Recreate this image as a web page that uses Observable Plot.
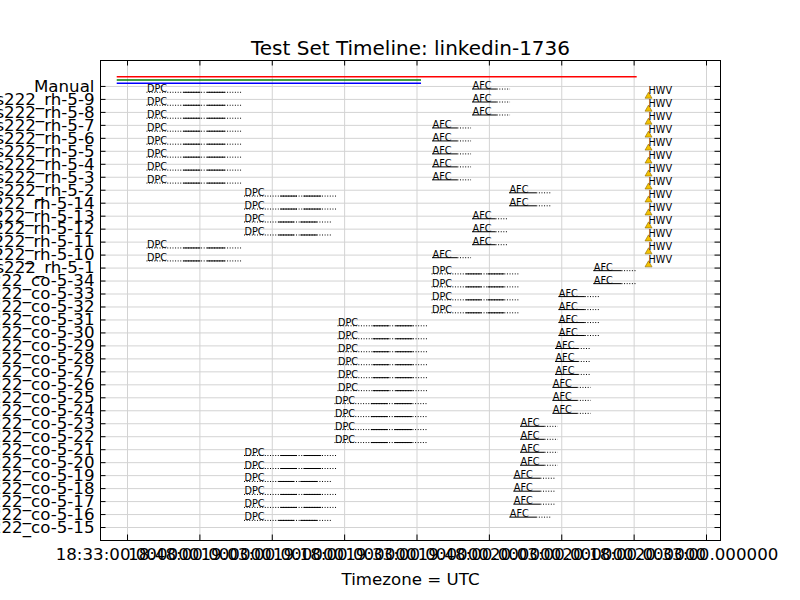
<!DOCTYPE html>
<html><head><meta charset="utf-8">
<script src="https://cdn.jsdelivr.net/npm/d3@7"></script>
<script src="https://cdn.jsdelivr.net/npm/@observablehq/plot@0.6"></script>
<style>body{margin:0;background:#fff;overflow:hidden}</style>
</head><body><div id="chart"></div>
<script>
const title = "Test Set Timeline: linkedin-1736";
const xLabel = "Timezone = UTC";
const rowLabels = ["Manual",
  "s222_rh-5-9","s222_rh-5-8","s222_rh-5-7","s222_rh-5-6","s222_rh-5-5","s222_rh-5-4","s222_rh-5-3","s222_rh-5-2",
  "s222_rh-5-14","s222_rh-5-13","s222_rh-5-12","s222_rh-5-11","s222_rh-5-10","s222_rh-5-1",
  "s222_co-5-34","s222_co-5-33","s222_co-5-32","s222_co-5-31","s222_co-5-30","s222_co-5-29","s222_co-5-28",
  "s222_co-5-27","s222_co-5-26","s222_co-5-25","s222_co-5-24","s222_co-5-23","s222_co-5-22","s222_co-5-21",
  "s222_co-5-20","s222_co-5-19","s222_co-5-18","s222_co-5-17","s222_co-5-16","s222_co-5-15"];
const xTickTimes = ["18:33:00","18:48:00","19:03:00","19:18:00","19:33:00","19:48:00","20:03:00","20:18:00","20:33:00"];
const xDomain = ["18:27:24","20:35:54"];

// Manual row lines
const manualColor = ["red","green","blue"];
const manualStart = ["18:30:52","18:30:52","18:30:52"];
const manualEnd   = ["20:18:38","19:33:56","19:33:56"];

// DPC events
const dpcRow = ["s222_rh-5-9","s222_rh-5-8","s222_rh-5-7","s222_rh-5-6","s222_rh-5-5","s222_rh-5-4","s222_rh-5-3","s222_rh-5-2",
  "s222_rh-5-14","s222_rh-5-13","s222_rh-5-12","s222_rh-5-11","s222_rh-5-10","s222_rh-5-1",
  "s222_co-5-34","s222_co-5-33","s222_co-5-32","s222_co-5-31",
  "s222_co-5-30","s222_co-5-29","s222_co-5-28","s222_co-5-27","s222_co-5-26","s222_co-5-25",
  "s222_co-5-24","s222_co-5-23","s222_co-5-22","s222_co-5-21",
  "s222_co-5-20","s222_co-5-19","s222_co-5-18","s222_co-5-17","s222_co-5-16","s222_co-5-15"];
const dpcStart = ["18:37:02","18:37:02","18:37:02","18:37:02","18:37:02","18:37:02","18:37:02","18:37:02",
  "18:57:15","18:57:15","18:57:15","18:57:15","18:37:02","18:37:02",
  "19:36:07","19:36:07","19:36:07","19:36:07",
  "19:16:38","19:16:38","19:16:38","19:16:38","19:16:38","19:16:38",
  "19:16:00","19:16:00","19:16:00","19:16:00",
  "18:57:15","18:57:15","18:57:15","18:57:15","18:57:15","18:57:15"];
const dpcEnd = ["18:56:38","18:56:38","18:56:38","18:56:38","18:56:38","18:56:38","18:56:38","18:56:38",
  "19:16:31","19:16:31","19:15:29","19:15:29","18:56:38","18:56:38",
  "19:54:15","19:54:15","19:54:15","19:54:15",
  "19:35:23","19:35:23","19:35:23","19:35:23","19:35:23","19:35:23",
  "19:35:23","19:35:23","19:35:23","19:35:23",
  "19:16:31","19:16:31","19:15:29","19:16:31","19:16:31","19:15:29"];

// AFC events
const afcRow = ["s222_rh-5-9","s222_rh-5-8","s222_rh-5-7","s222_rh-5-6","s222_rh-5-5","s222_rh-5-4","s222_rh-5-3","s222_rh-5-2",
  "s222_rh-5-14","s222_rh-5-13","s222_rh-5-12","s222_rh-5-11","s222_rh-5-10","s222_rh-5-1",
  "s222_co-5-34","s222_co-5-33","s222_co-5-32","s222_co-5-31","s222_co-5-30","s222_co-5-29",
  "s222_co-5-28","s222_co-5-27","s222_co-5-26","s222_co-5-25","s222_co-5-24","s222_co-5-23",
  "s222_co-5-22","s222_co-5-21","s222_co-5-20","s222_co-5-19","s222_co-5-18","s222_co-5-17","s222_co-5-16","s222_co-5-15"];
const afcStart = ["19:44:30","19:44:30","19:44:30","19:36:13","19:36:13","19:36:13","19:36:13","19:36:13",
  "19:52:10","19:52:10","19:44:30","19:44:30","19:44:30","19:36:13",
  "20:09:38","20:09:38","20:02:24","20:02:24","20:02:24","20:02:24",
  "20:01:42","20:01:42","20:01:42","20:01:09","20:01:09","20:01:09",
  "19:54:27","19:54:27","19:54:27","19:54:27","19:53:04","19:53:04","19:53:04","19:52:14"];
const afcEnd = ["19:52:23","19:52:23","19:52:23","19:44:18","19:44:18","19:44:18","19:44:18","19:44:18",
  "20:00:52","20:00:52","19:52:00","19:52:00","19:52:00","19:44:18",
  "20:18:38","20:18:38","20:10:50","20:10:50","20:10:50","20:10:50",
  "20:09:06","20:09:06","20:09:06","20:09:06","20:09:06","20:09:06",
  "20:02:16","20:02:16","20:02:16","20:02:16","20:01:42","20:01:42","20:01:42","20:00:49"];

// HWV markers
const hwvRow = ["s222_rh-5-9","s222_rh-5-8","s222_rh-5-7","s222_rh-5-6","s222_rh-5-5","s222_rh-5-4","s222_rh-5-3","s222_rh-5-2",
  "s222_rh-5-14","s222_rh-5-13","s222_rh-5-12","s222_rh-5-11","s222_rh-5-10","s222_rh-5-1"];
const hwvTime = ["20:20:59","20:20:59","20:20:59","20:20:59","20:20:59","20:20:59","20:20:59","20:20:59",
  "20:20:59","20:20:59","20:20:59","20:20:59","20:20:59","20:20:59"];

// stage patterns (fractions of each bar)
const dpcSolid = [[0.39,0.57],[0.64,0.83]];
const afcSolid = [[0,0.65]];

const day = "2016-01-01T";
const T = s => new Date(day + s + "Z");
const n = rowLabels.length;
const rowK = name => n - 1 - rowLabels.indexOf(name);

const W = 800, H = 600, mL = 100, mR = 80, mT = 60, mB = 60;
const fw = W - mL - mR, fh = H - mT - mB;
const tk = 5.5;

const DPC_OFF = 0.55, AFC_OFF = 0.8, HWV_OFF = 0.25, HWV_TXT = 0.42;

const dpc = dpcRow.map((r,i)=>({k: rowK(r), s: T(dpcStart[i]), e: T(dpcEnd[i])}));
const afc = afcRow.map((r,i)=>({k: rowK(r), s: T(afcStart[i]), e: T(afcEnd[i])}));
const hwv = hwvRow.map((r,i)=>({k: rowK(r), t: T(hwvTime[i])}));
const manual = manualColor.map((c,i)=>({c, s: T(manualStart[i]), e: T(manualEnd[i]), off: [0.75,0.5,0.25][i]}));

const lerp = (d,f) => new Date(+d.s + f*(d.e - d.s));
const dpcSolidSeg = dpc.flatMap(d => dpcSolid.map(([a,b]) => ({k: d.k, x1: lerp(d,a), x2: lerp(d,b)})));
const afcSolidSeg = afc.flatMap(d => afcSolid.map(([a,b]) => ({k: d.k, x1: lerp(d,a), x2: lerp(d,b)})));
const afcDotSeg = afc.map(d => ({k: d.k, x1: lerp(d, afcSolid[0][1]), x2: d.e}));

const xTicks = xTickTimes.map(T);
const yTicks = d3.range(n);
const fmt = d3.utcFormat("%H:%M:%S.000000");
const FS = 16.67, SF = 9.7;

const chart = Plot.plot({
  width: W, height: H,
  marginLeft: mL, marginRight: mR, marginTop: mT, marginBottom: mB,
  style: {fontFamily: "DejaVu Sans", background: "white", color: "black", overflow: "visible"},
  x: {type: "utc", domain: [T(xDomain[0]), T(xDomain[1])]},
  y: {type: "linear", domain: [-1, 36]},
  marks: [
    Plot.gridX(xTicks, {stroke: "#d3d3d3", strokeOpacity: 1, strokeWidth: 1}),
    Plot.gridY(yTicks, {stroke: "#d3d3d3", strokeOpacity: 1, strokeWidth: 1}),
    // manual lines
    Plot.ruleY(manual, {x1: "s", x2: "e", y: d => n - 1 + d.off, stroke: "c", strokeWidth: 1.4}),
    // DPC
    Plot.ruleY(dpc, {x1: "s", x2: "e", y: d => d.k + DPC_OFF, stroke: "black", strokeWidth: 1, strokeDasharray: "1,1.6"}),
    Plot.ruleY(dpcSolidSeg, {x1: "x1", x2: "x2", y: d => d.k + DPC_OFF, stroke: "black", strokeWidth: 1}),
    Plot.text(dpc, {x: "s", y: d => d.k + DPC_OFF, text: () => "DPC", textAnchor: "start", lineAnchor: "bottom", fontSize: SF, dy: 0}),
    // AFC
    Plot.ruleY(afcSolidSeg, {x1: "x1", x2: "x2", y: d => d.k + AFC_OFF, stroke: "black", strokeWidth: 1}),
    Plot.ruleY(afcDotSeg, {x1: "x1", x2: "x2", y: d => d.k + AFC_OFF, stroke: "black", strokeWidth: 1, strokeDasharray: "1,1.6"}),
    Plot.text(afc, {x: "s", y: d => d.k + AFC_OFF, text: () => "AFC", textAnchor: "start", lineAnchor: "bottom", fontSize: SF, dy: 0}),
    // HWV
    Plot.dot(hwv, {x: "t", y: d => d.k + HWV_OFF, symbol: "triangle", r: 2.6, fill: "#f5c200", stroke: "#8a6a00", strokeWidth: 0.6}),
    Plot.text(hwv, {x: "t", y: d => d.k + HWV_TXT, text: () => "HWV", textAnchor: "start", lineAnchor: "bottom", fontSize: SF}),
    // frame
    Plot.frame({stroke: "black", strokeWidth: 1}),
    // inward ticks
    Plot.ruleX(xTicks, {x: d => d, insetTop: fh - tk, stroke: "black"}),
    Plot.ruleX(xTicks, {x: d => d, insetBottom: fh - tk, stroke: "black"}),
    Plot.ruleY(yTicks, {y: d => d, insetRight: fw - tk, stroke: "black"}),
    Plot.ruleY(yTicks, {y: d => d, insetLeft: fw - tk, stroke: "black"}),
    // axes
    Plot.axisX(xTicks, {tickSize: 0, tickPadding: 8, tickFormat: fmt, fontSize: FS, label: null}),
    Plot.axisY(yTicks, {tickSize: 0, tickPadding: 6, tickFormat: k => rowLabels[n - 1 - k], fontSize: FS, label: null}),
    // titles
    Plot.text([title], {frameAnchor: "top", dy: -6, lineAnchor: "bottom", fontSize: 20}),
    Plot.text([xLabel], {frameAnchor: "bottom", dy: 44, lineAnchor: "bottom", fontSize: FS})
  ]
});
document.getElementById("chart").appendChild(chart);
</script>
</body></html>
